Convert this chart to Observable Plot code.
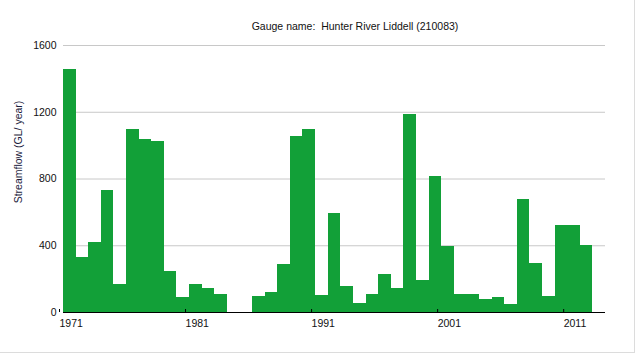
<!DOCTYPE html>
<html>
<head>
<meta charset="utf-8">
<script src="https://cdn.jsdelivr.net/npm/d3@7"></script>
<script src="https://cdn.jsdelivr.net/npm/@observablehq/plot@0.6"></script>
<style>
  html, body { margin: 0; padding: 0; background: #fff; }
  #wrap { position: relative; width: 642px; height: 356px; overflow: hidden; font-family: "Liberation Sans", Arial, sans-serif; }
  #frame { position: absolute; left: 0; top: 0; width: 634px; height: 352px; border-right: 1px solid #dcdcdc; border-bottom: 1px solid #dcdcdc; }
  #title { position: absolute; top: 20px; left: 0; width: 710px; text-align: center; font-size: 10.5px; color: #111; white-space: nowrap; }
  #ylabel { position: absolute; left: 18px; top: 152px; transform: translate(-50%, -50%) rotate(-90deg); font-size: 10.5px; color: #1c1c3c; white-space: nowrap; }
  #chart { position: absolute; left: 0; top: 0; }
</style>
</head>
<body>
<div id="wrap">
  <div id="frame"></div>
  <div id="chart"></div>
  <div id="title"></div>
  <div id="ylabel"></div>
</div>
<script>
const title = "Gauge name:\u00a0 Hunter River Liddell (210083)";
const yLabel = "Streamflow (GL/ year)";
const years = [1971,1972,1973,1974,1975,1976,1977,1978,1979,1980,1981,1982,1983,
               1986,1987,1988,1989,1990,1991,1992,1993,1994,1995,1996,1997,1998,1999,2000,
               2001,2002,2003,2004,2005,2006,2007,2008,2009,2010,2011,2012];
const flows = [1455,328,421,731,166,1098,1036,1024,247,88,166,146,106,
               94,118,286,1053,1098,100,593,158,54,106,228,146,1186,194,815,
               397,106,106,78,88,48,675,292,94,519,519,401];
const xTicks = [1971,1981,1991,2001,2011];
const yTicks = [0,400,800,1200,1600];

document.getElementById("title").textContent = title;
document.getElementById("ylabel").textContent = yLabel;

const data = years.map((y, i) => ({year: y, value: flows[i]}));

const chart = Plot.plot({
  width: 642,
  height: 356,
  marginLeft: 63,
  marginRight: 37,
  marginTop: 45,
  marginBottom: 44,
  style: {fontFamily: "'Liberation Sans', Arial, sans-serif", fontSize: "10.5px", color: "#111", background: "transparent"},
  x: {domain: [1971, 2014]},
  y: {domain: [0, 1600]},
  marks: [
    Plot.gridY(yTicks.filter(d => d > 0), {stroke: "#c8c8c8", strokeOpacity: 1, strokeWidth: 1}),
    Plot.rectY(data, {x1: "year", x2: d => d.year + 1, y: "value", fill: "#12a038", inset: 0, shapeRendering: "crispEdges"}),
    Plot.ruleY([0], {stroke: "#000", strokeWidth: 1.2}),
    Plot.axisY({ticks: yTicks, tickFormat: d3.format("d"), tickSize: 0, tickPadding: 7, label: null, fill: "#111"}),
    Plot.axisX({ticks: xTicks, tickFormat: d => String(d), tickSize: -3, tickPadding: 10, label: null, fill: "#111", stroke: "#000", textAnchor: "start", dx: -4})
  ]
});
document.getElementById("chart").appendChild(chart);
</script>
</body>
</html>
